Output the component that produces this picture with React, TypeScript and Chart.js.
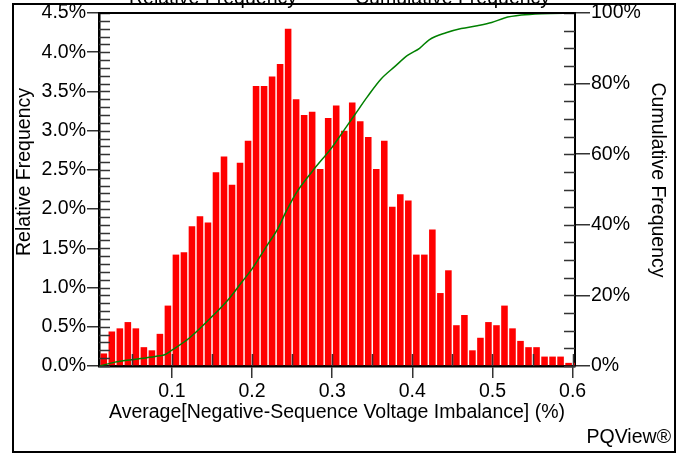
import React, { useRef, useEffect } from "react";
import { Chart, registerables } from "chart.js";

Chart.register(...registerables);

// histogram bins: 0.01 wide, first bin starts at 0.01
const binStart = 0.01;
const binWidth = 0.01;
const relFreq = [
  0.16, 0.44, 0.48, 0.56, 0.48, 0.24, 0.2, 0.41, 0.77, 1.42,
  1.45, 1.78, 1.91, 1.83, 2.47, 2.67, 2.31, 2.59, 2.87, 3.57,
  3.57, 3.69, 3.85, 4.3, 3.4, 3.2, 3.24, 2.51, 3.16, 3.32,
  3.0, 3.36, 3.12, 2.92, 2.51, 2.87, 2.03, 2.19, 2.11, 1.42,
  1.42, 1.74, 0.93, 1.22, 0.52, 0.65, 0.2, 0.36, 0.56, 0.52,
  0.77, 0.48, 0.32, 0.24, 0.24, 0.12, 0.12, 0.12, 0.04, 0.04,
];

// cumulative curve
const cumX = [
  0.01, 0.029, 0.05, 0.079, 0.091, 0.1, 0.121, 0.146, 0.171, 0.188, 0.2,
  0.22, 0.231, 0.243, 0.255, 0.276, 0.3, 0.312, 0.328, 0.344, 0.361, 0.378,
  0.394, 0.409, 0.421, 0.442, 0.461, 0.481, 0.499, 0.515, 0.536, 0.561, 0.603,
];
const cumY = [
  0, 1.1, 1.8, 2.7, 3.2, 4.5, 7.8, 13.1, 19, 24, 27.5,
  34.6, 38.4, 44, 49, 55.4, 62, 65.9, 71.1, 76.3, 81.3, 84.8,
  88, 90, 92.4, 94.4, 95.6, 96.4, 97.3, 98.6, 99.4, 99.8, 100,
];

const xTickValues = [0.1, 0.2, 0.3, 0.4, 0.5, 0.6];
const xMinorTicks = [0.05, 0.1, 0.15, 0.2, 0.25, 0.3, 0.35, 0.4, 0.45, 0.5, 0.55, 0.6];

const FONT = '"Liberation Sans", Arial, sans-serif';
const FS = 19.5;

const decorPlugin = {
  id: "decor",
  afterDatasetsDraw(chart: any) {
    const { ctx, chartArea: a, scales } = chart;
    const x = scales.x;
    const y = scales.y;
    const y2 = scales.y2;
    ctx.save();
    ctx.strokeStyle = "#333";
    ctx.lineWidth = 1.5;
    ctx.beginPath();
    // left inside ticks every 0.1%
    for (let v = 0; v <= 45; v++) {
      const py = Math.round(y.getPixelForValue(v / 10)) + 0.5;
      ctx.moveTo(a.left, py);
      ctx.lineTo(a.left + 11, py);
    }
    // right inside ticks every 5%
    for (let v = 0; v <= 100; v += 5) {
      const py = Math.round(y2.getPixelForValue(v)) + 0.5;
      ctx.moveTo(a.right, py);
      ctx.lineTo(a.right - 11, py);
    }
    // bottom inside ticks
    xMinorTicks.forEach((v) => {
      const px = Math.round(x.getPixelForValue(v)) + 0.5;
      ctx.moveTo(px, a.bottom);
      ctx.lineTo(px, a.bottom - 12);
    });
    ctx.stroke();
    // top border of plot
    ctx.strokeStyle = "#000";
    ctx.lineWidth = 2;
    ctx.beginPath();
    ctx.moveTo(a.left, a.top);
    ctx.lineTo(a.right, a.top);
    ctx.stroke();
    ctx.restore();
  },
  afterDraw(chart: any) {
    const { ctx, chartArea: a } = chart;
    ctx.save();
    ctx.fillStyle = "#000";
    ctx.font = `${FS}px ${FONT}`;
    // legend (cut off by the top of the picture)
    ctx.textAlign = "left";
    ctx.textBaseline = "alphabetic";
    ctx.fillText("Relative Frequency", 129, 4);
    ctx.fillText("Cumulative Frequency", 355, 4);
    // axis titles
    ctx.textAlign = "center";
    ctx.textBaseline = "middle";
    ctx.fillText(
      "Average[Negative-Sequence Voltage Imbalance] (%)",
      (a.left + a.right) / 2,
      413
    );
    ctx.save();
    ctx.translate(25, 172);
    ctx.rotate(-Math.PI / 2);
    ctx.fillText("Relative Frequency", 0, 0);
    ctx.restore();
    ctx.save();
    ctx.translate(657, 180);
    ctx.rotate(Math.PI / 2);
    ctx.fillText("Cumulative Frequency", 0, 0);
    ctx.restore();
    ctx.textAlign = "right";
    ctx.fillText("PQView®", 671, 438);
    // outer frame
    ctx.strokeStyle = "#000";
    ctx.lineWidth = 2;
    ctx.strokeRect(13, 4, 662, 448);
    ctx.restore();
  },
};

const App = () => {
  const canvasRef = useRef<HTMLCanvasElement>(null);
  const chartRef = useRef<Chart | null>(null);

  useEffect(() => {
    if (!canvasRef.current) return;
    const ctx = canvasRef.current.getContext("2d");
    if (!ctx) return;

    const bars = relFreq.map((v, i) => ({ x: binStart + binWidth * (i + 0.5), y: v }));
    const cum = cumX.map((v, i) => ({ x: v, y: cumY[i] }));

    chartRef.current = new Chart(ctx, {
      type: "bar",
      data: {
        datasets: [
          {
            type: "line",
            label: "Cumulative Frequency",
            data: cum,
            xAxisID: "x",
            yAxisID: "y2",
            borderColor: "#008000",
            borderWidth: 1.5,
            pointRadius: 0,
            cubicInterpolationMode: "monotone",
            order: 0,
          } as any,
          {
            type: "bar",
            label: "Relative Frequency",
            data: bars,
            xAxisID: "x",
            yAxisID: "y",
            backgroundColor: "#ff0000",
            borderWidth: 0,
            barPercentage: 0.82,
            categoryPercentage: 1,
            order: 1,
          } as any,
        ],
      },
      options: {
        responsive: false,
        animation: false,
        layout: { padding: { top: 13, left: 0, right: 0, bottom: 0 } },
        plugins: {
          legend: { display: false },
          tooltip: { enabled: false },
        },
        scales: {
          x: {
            type: "linear",
            position: "bottom",
            min: 0.009,
            max: 0.603,
            offset: false,
            afterBuildTicks: (s: any) => {
              s.ticks = xTickValues.map((v) => ({ value: v }));
            },
            afterFit: (s: any) => {
              s.height = 89;
            },
            grid: {
              drawOnChartArea: false,
              drawTicks: true,
              tickLength: 12,
              color: "#333",
              lineWidth: 1.5,
              offset: false,
            },
            border: { display: true, color: "#000", width: 2.5 },
            ticks: {
              color: "#000",
              font: { family: FONT, size: FS },
              padding: 2,
              maxRotation: 0,
              callback: (v: any) => Number(v).toFixed(1),
            },
          },
          y: {
            type: "linear",
            position: "left",
            min: 0,
            max: 4.5,
            afterFit: (s: any) => {
              s.width = 99;
            },
            grid: {
              drawOnChartArea: false,
              drawTicks: true,
              tickLength: 12,
              color: "#333",
              lineWidth: 1.5,
            },
            border: { display: true, color: "#000", width: 2.5 },
            ticks: {
              stepSize: 0.5,
              color: "#000",
              font: { family: FONT, size: FS },
              padding: 1,
              callback: (v: any) => Number(v).toFixed(1) + "%",
            },
          },
          y2: {
            type: "linear",
            position: "right",
            min: 0,
            max: 100,
            afterFit: (s: any) => {
              s.width = 105;
            },
            grid: {
              drawOnChartArea: false,
              drawTicks: true,
              tickLength: 15,
              color: "#333",
              lineWidth: 1.5,
            },
            border: { display: true, color: "#000", width: 2 },
            ticks: {
              stepSize: 20,
              color: "#000",
              font: { family: FONT, size: FS },
              padding: 1,
              callback: (v: any) => v + "%",
            },
          },
        },
      },
      plugins: [decorPlugin],
    });

    return () => {
      if (chartRef.current) {
        chartRef.current.destroy();
        chartRef.current = null;
      }
    };
  }, []);

  return (
    <div style={{ position: "absolute", left: 0, top: 0, width: 680, height: 455, background: "#fff" }}>
      <canvas ref={canvasRef} width={680} height={455} style={{ display: "block" }} />
    </div>
  );
};

export default App;
